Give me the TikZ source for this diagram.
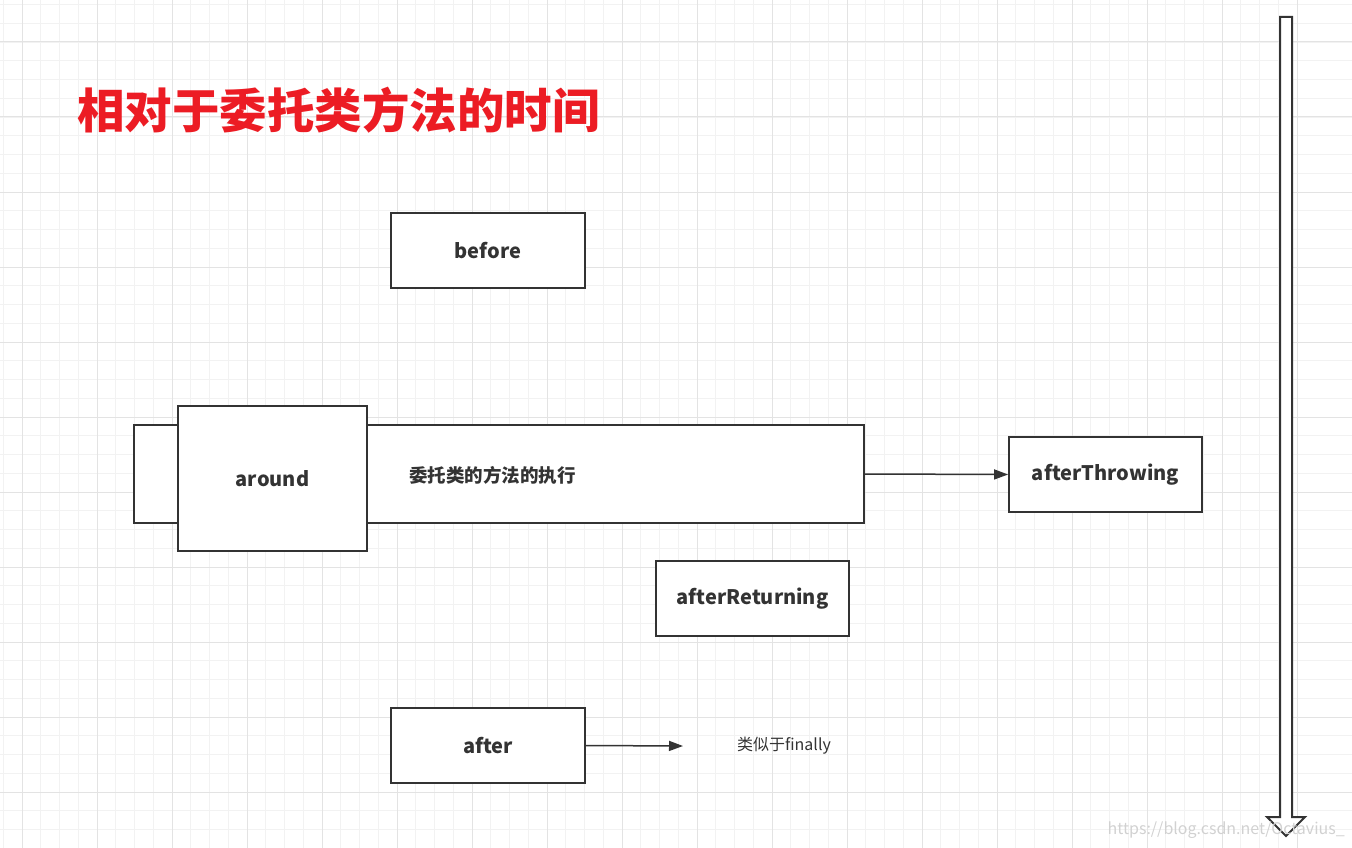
\documentclass[tikz,border=0pt]{standalone}
\usepackage{fontspec}
\setmainfont{Noto Sans CJK SC}
\usetikzlibrary{arrows.meta}
\definecolor{gmin}{HTML}{F2F2F2}
\definecolor{gmaj}{HTML}{E3E3E3}
\definecolor{ink}{HTML}{333333}
\definecolor{tred}{HTML}{EC1C24}
\begin{document}
\begin{tikzpicture}[x=1pt,y=-1pt,
  box/.style={draw=ink,line width=1.8pt,fill=white,inner sep=0pt,font=\fontsize{20}{24}\selectfont\bfseries,text=ink},
  conn/.style={draw=ink,line width=1.5pt,-{Triangle[length=14pt,width=10pt]}}]
\useasboundingbox (0,0) rectangle (1352,848);
\foreach \i in {0,...,72} {\draw[gmin,line width=0.8pt] (22+\i*18.75-75,0)--(22+\i*18.75-75,848);}
\foreach \i in {0,...,46} {\draw[gmin,line width=0.8pt] (0,42+\i*18.75-75)--(1352,42+\i*18.75-75);}
\foreach \i in {0,...,18} {\draw[gmaj,line width=1pt] (22+\i*75,0)--(22+\i*75,848);}
\foreach \i in {0,...,11} {\draw[gmaj,line width=1pt] (0,42+\i*75)--(1352,42+\i*75);}
\node[anchor=west,text=tred,font=\fontsize{47.5}{52}\selectfont\bfseries,inner sep=0pt] (title) at (77,110) {相对于委托类方法的时间};
\node[box,minimum width=194pt,minimum height=75pt] (before) at (488,250.5) {before};
\draw[ink,line width=1.8pt,fill=white] (134,425) rectangle (864,523);
\node[box,fill=none,draw=none,minimum width=497pt,minimum height=98pt] (method) at (615.5,474) {};
\node[font=\fontsize{18.5}{22}\selectfont\bfseries,text=ink,anchor=west,inner sep=0pt] (mtext) at (409,475) {委托类的方法的执行};
\node[box,minimum width=189pt,minimum height=145pt] (around) at (272.5,478.5) {around};
\node[box,minimum width=193pt,minimum height=75pt] (athrow) at (1105.5,474.5) {afterThrowing};
\node[box,minimum width=193pt,minimum height=75pt] (aret) at (752.5,598.5) {afterReturning};
\node[box,minimum width=194pt,minimum height=75pt] (after) at (488,745.5) {after};
\coordinate (fend) at (683,746);
\node[font=\fontsize{16}{20}\selectfont,text=ink] (fin) at (784,746) {类似于finally};
\draw[conn] (method.east) -- (athrow.west);
\draw[conn] (after.east) -- (fend);
\draw[ink,line width=2pt,fill=white,line join=miter] (1280,17) -- (1292,17) -- (1292,817) -- (1305,817) -- (1286,836) -- (1267,817) -- (1280,817) -- cycle;
\node[anchor=east,text=black!18,font=\fontsize{16}{20}\selectfont,inner sep=0pt] (wm) at (1345,830) {https://blog.csdn.net/Octavius\_};
\end{tikzpicture}
\end{document}
